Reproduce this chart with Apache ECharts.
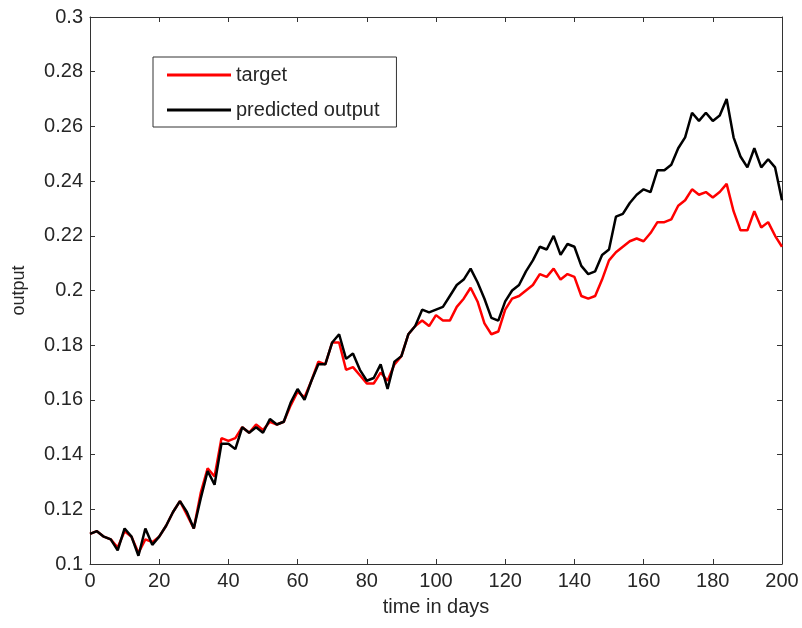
<!DOCTYPE html>
<html>
<head>
<meta charset="utf-8">
<script src="https://cdn.jsdelivr.net/npm/echarts@6/dist/echarts.min.js"></script>
<style>
  html, body { margin: 0; padding: 0; background: #fff; }
  #chart { width: 802px; height: 628px; }
</style>
</head>
<body>
<div id="chart"></div>
<script>
const days = [];
for (let d = 0; d <= 200; d += 2) days.push(d);

const target = [
  0.111, 0.112, 0.110, 0.109, 0.106, 0.112, 0.110, 0.104, 0.109, 0.108,
  0.110, 0.114, 0.119, 0.123, 0.118, 0.113, 0.126, 0.135, 0.132, 0.146,
  0.145, 0.146, 0.150, 0.148, 0.151, 0.149, 0.152, 0.151, 0.152, 0.158,
  0.163, 0.161, 0.167, 0.174, 0.173, 0.181, 0.181, 0.171, 0.172, 0.169,
  0.166, 0.166, 0.170, 0.167, 0.173, 0.176, 0.184, 0.187, 0.189, 0.187,
  0.191, 0.189, 0.189, 0.194, 0.197, 0.201, 0.196, 0.188, 0.184, 0.185,
  0.193, 0.197, 0.198, 0.200, 0.202, 0.206, 0.205, 0.208, 0.204, 0.206,
  0.205, 0.198, 0.197, 0.198, 0.204, 0.211, 0.214, 0.216, 0.218, 0.219,
  0.218, 0.221, 0.225, 0.225, 0.226, 0.231, 0.233, 0.237, 0.235, 0.236,
  0.234, 0.236, 0.239, 0.229, 0.222, 0.222, 0.229, 0.223, 0.225, 0.220,
  0.216
];

const predicted = [
  0.111, 0.112, 0.110, 0.109, 0.105, 0.113, 0.110, 0.103, 0.113, 0.107,
  0.110, 0.114, 0.119, 0.123, 0.119, 0.113, 0.124, 0.134, 0.129, 0.144,
  0.144, 0.142, 0.150, 0.148, 0.150, 0.148, 0.153, 0.151, 0.152, 0.159,
  0.164, 0.160, 0.167, 0.173, 0.173, 0.181, 0.184, 0.175, 0.177, 0.171,
  0.167, 0.168, 0.173, 0.164, 0.174, 0.176, 0.184, 0.187, 0.193, 0.192,
  0.193, 0.194, 0.198, 0.202, 0.204, 0.208, 0.203, 0.197, 0.190, 0.189,
  0.196, 0.200, 0.202, 0.207, 0.211, 0.216, 0.215, 0.220, 0.213, 0.217,
  0.216, 0.209, 0.206, 0.207, 0.213, 0.215, 0.227, 0.228, 0.232, 0.235,
  0.237, 0.236, 0.244, 0.244, 0.246, 0.252, 0.256, 0.265, 0.262, 0.265,
  0.262, 0.264, 0.270, 0.256, 0.249, 0.245, 0.252, 0.245, 0.248, 0.245,
  0.233
];

const seriesNames = ['target', 'predicted output'];
const xTickStep = 20;
const yTickStep = 0.02;

const font = 'Liberation Sans, Arial, sans-serif';
const fontSize = 20;
const ink = '#262626';
const frame = '#333';

const chart = echarts.init(document.getElementById('chart'), null, { renderer: 'canvas' });

// MATLAB-style box: ticks pointing inward on all four sides
const tickIn = { show: true, inside: true, length: 5, lineStyle: { color: frame, width: 1 } };
const line = { show: true, onZero: false, lineStyle: { color: frame, width: 1 } };
const fmtY = v => String(+v.toFixed(2));
const text = { fontFamily: font, fontSize: fontSize, color: ink };

chart.setOption({
  animation: false,
  grid: { left: 90, right: 20, top: 17, bottom: 64, containLabel: false },
  legend: {
    data: seriesNames.map(n => ({ name: n, icon: 'rect' })),
    orient: 'vertical',
    left: 153,
    top: 57,
    padding: [8, 17, 7, 14],
    itemWidth: 64,
    itemHeight: 3,
    itemGap: 15,
    borderColor: frame,
    borderWidth: 1,
    borderRadius: 0,
    backgroundColor: '#fff',
    textStyle: text
  },
  xAxis: [
    {
      type: 'value', min: 0, max: 200, interval: xTickStep,
      name: 'time in days', nameLocation: 'middle', nameGap: 33,
      nameTextStyle: text,
      axisLine: line, axisTick: tickIn,
      axisLabel: Object.assign({ margin: 7 }, text),
      splitLine: { show: false }
    },
    {
      type: 'value', min: 0, max: 200, interval: xTickStep, position: 'top',
      axisLine: line, axisTick: tickIn, axisLabel: { show: false },
      splitLine: { show: false }
    }
  ],
  yAxis: [
    {
      type: 'value', min: 0.1, max: 0.3, interval: yTickStep,
      name: 'output', nameLocation: 'middle', nameGap: 62, nameRotate: 90,
      nameTextStyle: Object.assign({}, text, { fontSize: 18 }),
      axisLine: line, axisTick: tickIn,
      axisLabel: Object.assign({ margin: 7, formatter: fmtY }, text),
      splitLine: { show: false }
    },
    {
      type: 'value', min: 0.1, max: 0.3, interval: yTickStep, position: 'right',
      axisLine: line, axisTick: tickIn, axisLabel: { show: false },
      splitLine: { show: false }
    }
  ],
  series: [
    {
      name: seriesNames[0], type: 'line', symbol: 'none',
      data: days.map((d, i) => [d, target[i]]),
      lineStyle: { color: '#ff0000', width: 2.5 },
      itemStyle: { color: '#ff0000' }
    },
    {
      name: seriesNames[1], type: 'line', symbol: 'none',
      data: days.map((d, i) => [d, predicted[i]]),
      lineStyle: { color: '#000000', width: 2.5 },
      itemStyle: { color: '#000000' }
    }
  ]
});
</script>
</body>
</html>
